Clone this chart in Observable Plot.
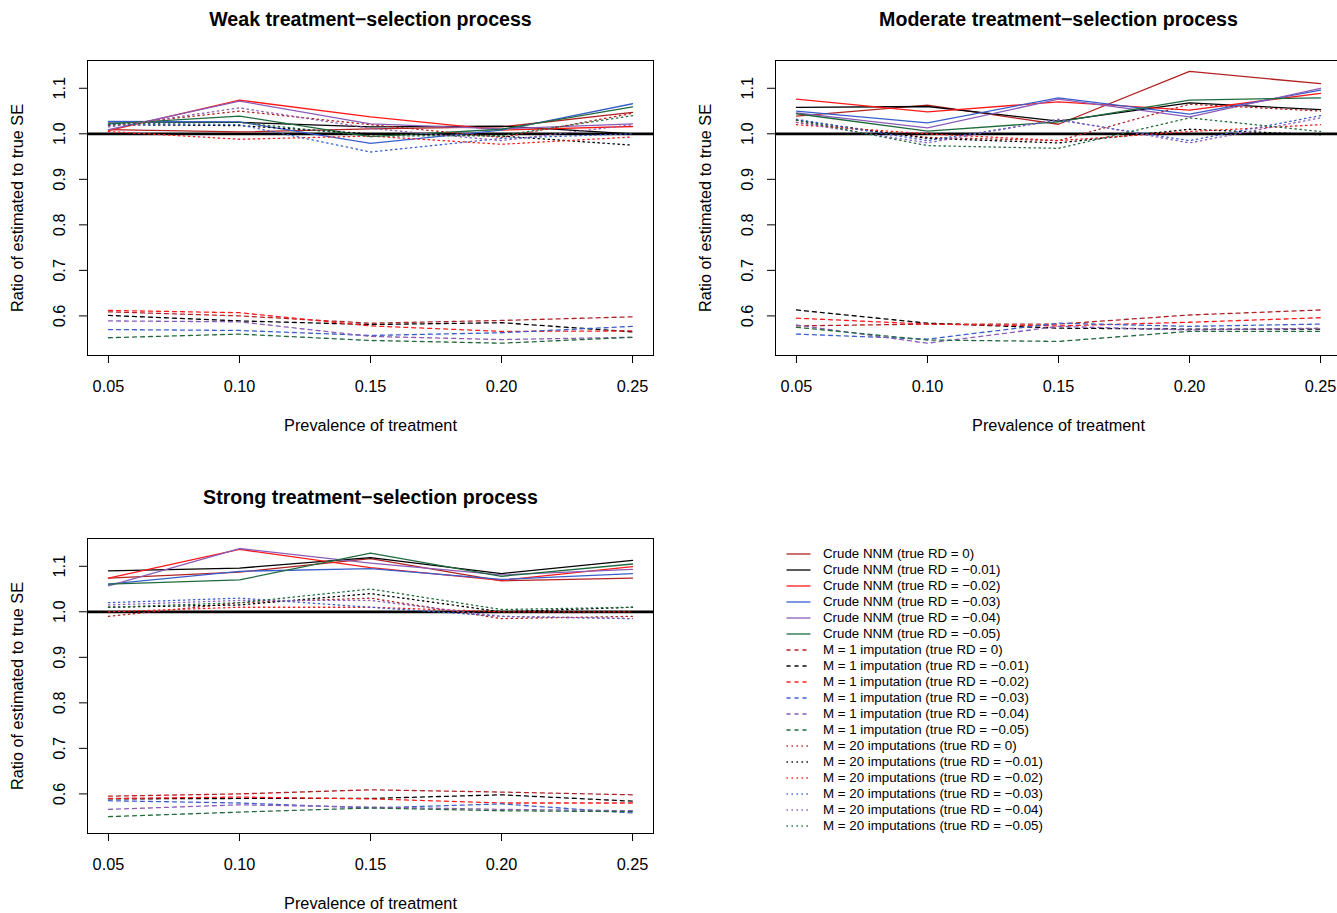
<!DOCTYPE html>
<html><head><meta charset="utf-8">
<script src="https://cdn.jsdelivr.net/npm/d3@7"></script>
<script src="https://cdn.jsdelivr.net/npm/@observablehq/plot@0.6"></script>
<style>
html,body{margin:0;padding:0;background:#fff;width:1337px;height:913px;overflow:hidden;}
#root{position:relative;width:1337px;height:913px;overflow:hidden;font-family:"Liberation Sans",Arial,Helvetica,sans-serif;}
.panel{position:absolute;}
.lg{position:absolute;left:786px;height:16px;display:flex;align-items:center;font-size:13.3px;white-space:nowrap;color:#000;}
.lg svg{margin-right:12px;}
</style></head><body><div id="root"></div>
<script>
// ---------------- data ----------------
const prevalence = [0.05, 0.10, 0.15, 0.20, 0.25];
const xTicks = [0.05, 0.10, 0.15, 0.20, 0.25];
const yTicks = [0.6, 0.7, 0.8, 0.9, 1.0, 1.1];
const trueRD = ["0", "\u22120.01", "\u22120.02", "\u22120.03", "\u22120.04", "\u22120.05"];
const methodNames = ["Crude NNM", "M = 1 imputation", "M = 20 imputations"];
const panelTitles = ["Weak treatment\u2212selection process", "Moderate treatment\u2212selection process", "Strong treatment\u2212selection process"];
const xLabel = "Prevalence of treatment";
const yLabel = "Ratio of estimated to true SE";

// rows: true RD = 0, -0.01, -0.02, -0.03, -0.04, -0.05 ; columns: prevalence
const weakCrude = [
  [1.009, 1.004, 1.011, 1.015, 1.047],
  [1.026, 1.025, 1.015, 1.017, 1.000],
  [1.007, 1.074, 1.037, 1.008, 1.016],
  [1.027, 1.026, 0.979, 1.008, 1.066],
  [1.009, 1.072, 1.022, 1.011, 1.022],
  [1.022, 1.039, 0.994, 1.010, 1.059]
];
const weakM1 = [
  [0.609, 0.600, 0.584, 0.590, 0.598],
  [0.601, 0.589, 0.581, 0.585, 0.565],
  [0.612, 0.607, 0.578, 0.566, 0.567],
  [0.570, 0.568, 0.557, 0.563, 0.577],
  [0.589, 0.587, 0.555, 0.548, 0.553],
  [0.552, 0.560, 0.546, 0.540, 0.553]
];
const weakM20 = [
  [1.018, 1.050, 1.020, 0.992, 1.045],
  [1.020, 1.018, 1.000, 0.995, 0.975],
  [1.005, 0.988, 0.995, 0.977, 0.993],
  [1.020, 1.020, 0.960, 0.990, 1.000],
  [1.015, 1.057, 1.012, 0.985, 1.020],
  [1.022, 1.025, 0.995, 0.996, 1.040]
];
const moderateCrude = [
  [1.039, 1.063, 1.021, 1.137, 1.110],
  [1.058, 1.060, 1.028, 1.068, 1.053],
  [1.076, 1.048, 1.070, 1.052, 1.089],
  [1.050, 1.024, 1.079, 1.043, 1.096],
  [1.046, 1.013, 1.076, 1.037, 1.100],
  [1.044, 1.006, 1.026, 1.074, 1.079]
];
const moderateM1 = [
  [0.578, 0.582, 0.582, 0.602, 0.613],
  [0.613, 0.584, 0.573, 0.571, 0.571],
  [0.595, 0.582, 0.578, 0.586, 0.596],
  [0.560, 0.549, 0.584, 0.577, 0.582],
  [0.580, 0.540, 0.577, 0.569, 0.573],
  [0.575, 0.547, 0.544, 0.566, 0.566]
];
const moderateM20 = [
  [1.025, 0.992, 0.985, 1.065, 1.050],
  [1.030, 0.990, 0.980, 1.010, 0.998],
  [1.020, 1.000, 0.985, 1.005, 1.020],
  [1.032, 0.985, 1.030, 0.985, 1.040],
  [1.025, 0.980, 1.032, 0.980, 1.035],
  [1.030, 0.974, 0.968, 1.035, 1.005]
];
const strongCrude = [
  [1.074, 1.087, 1.117, 1.068, 1.074],
  [1.090, 1.096, 1.119, 1.084, 1.113],
  [1.074, 1.137, 1.097, 1.069, 1.099],
  [1.061, 1.089, 1.095, 1.071, 1.084],
  [1.057, 1.139, 1.107, 1.081, 1.093],
  [1.061, 1.070, 1.129, 1.078, 1.105]
];
const strongM1 = [
  [0.595, 0.600, 0.609, 0.604, 0.598],
  [0.589, 0.590, 0.590, 0.598, 0.584],
  [0.590, 0.593, 0.589, 0.580, 0.580],
  [0.585, 0.580, 0.569, 0.578, 0.558],
  [0.566, 0.576, 0.571, 0.566, 0.563],
  [0.550, 0.560, 0.569, 0.563, 0.561]
];
const strongM20 = [
  [0.990, 1.020, 1.030, 0.985, 0.990],
  [1.010, 1.015, 1.040, 1.000, 1.010],
  [1.000, 1.010, 1.010, 1.000, 1.000],
  [1.020, 1.030, 1.010, 0.990, 0.985],
  [1.015, 1.025, 1.025, 0.990, 0.985],
  [1.010, 1.020, 1.050, 1.005, 1.010]
];

// ---------------- styles ----------------
const seriesColors = ["#B22222", "#000000", "#FF1A1A", "#3A5FCD", "#8A5CB8", "#1F6B3F"];
const methodDash = [null, "4 4", "1.4 3.6"];
const FONT = "Liberation Sans, Arial, Helvetica, sans-serif";

function makePanel(title, sets) {
  const rows = [];
  sets.forEach((arr, m) => arr.forEach((vals, r) => vals.forEach((v, j) => rows.push({m, r, x: prevalence[j], y: v}))));
  const lines = [];
  for (let m = 0; m < 3; m++) for (let r = 0; r < 6; r++) {
    lines.push(Plot.line(rows.filter(d => d.m === m && d.r === r), {
      x: "x", y: "y", stroke: seriesColors[r], strokeWidth: 1.3,
      strokeDasharray: methodDash[m] || undefined
    }));
  }
  return Plot.plot({
    width: 668, height: 456,
    marginLeft: 87, marginRight: 15, marginTop: 60, marginBottom: 101,
    x: {domain: [0.042, 0.258]},
    y: {domain: [0.513, 1.161]},
    style: {fontFamily: FONT, fontSize: "16.3px", color: "#000", background: "transparent", overflow: "visible"},
    marks: [
      Plot.axisX({ticks: xTicks, tickFormat: d3.format(".2f"), tickSize: 8, tickPadding: 17, label: null, fontSize: 16.3}),
      Plot.axisY({ticks: yTicks, tickFormat: d3.format(".1f"), tickSize: 8, tickRotate: -90, tickPadding: 15, label: null, fontSize: 16.3}),
      Plot.ruleY([1], {stroke: "#000", strokeWidth: 2.7}),
      ...lines,
      Plot.frame({stroke: "#000", strokeWidth: 1}),
      Plot.text([title], {frameAnchor: "top", dy: -41, lineAnchor: "middle", textAnchor: "middle", fontWeight: "bold", fontSize: 19.6}),
      Plot.text([xLabel], {frameAnchor: "bottom", dy: 70, lineAnchor: "middle", textAnchor: "middle", fontSize: 16.3}),
      Plot.text([yLabel], {frameAnchor: "left", dx: -70, rotate: -90, lineAnchor: "middle", textAnchor: "middle", fontSize: 16.3})
    ]
  });
}

const root = document.getElementById("root");
const panels = [
  {title: panelTitles[0], sets: [weakCrude, weakM1, weakM20], left: 0, top: 0},
  {title: panelTitles[1], sets: [moderateCrude, moderateM1, moderateM20], left: 688, top: 0},
  {title: panelTitles[2], sets: [strongCrude, strongM1, strongM20], left: 0, top: 478}
];
for (const p of panels) {
  const el = makePanel(p.title, p.sets);
  el.classList.add("panel");
  el.style.left = p.left + "px";
  el.style.top = p.top + "px";
  root.appendChild(el);
}

// ---------------- legend ----------------
let idx = 0;
for (let m = 0; m < 3; m++) for (let r = 0; r < 6; r++) {
  const row = document.createElement("div");
  row.className = "lg";
  row.style.top = (545.5 + 16 * idx) + "px";
  const dash = methodDash[m] ? ` stroke-dasharray="${methodDash[m]}"` : "";
  row.innerHTML = `<svg width="25" height="4"><line x1="0.5" y1="2" x2="24.5" y2="2" stroke="${seriesColors[r]}" stroke-width="1.3"${dash}/></svg><span>${methodNames[m]} (true RD = ${trueRD[r]})</span>`;
  root.appendChild(row);
  idx++;
}
</script>
</body></html>
